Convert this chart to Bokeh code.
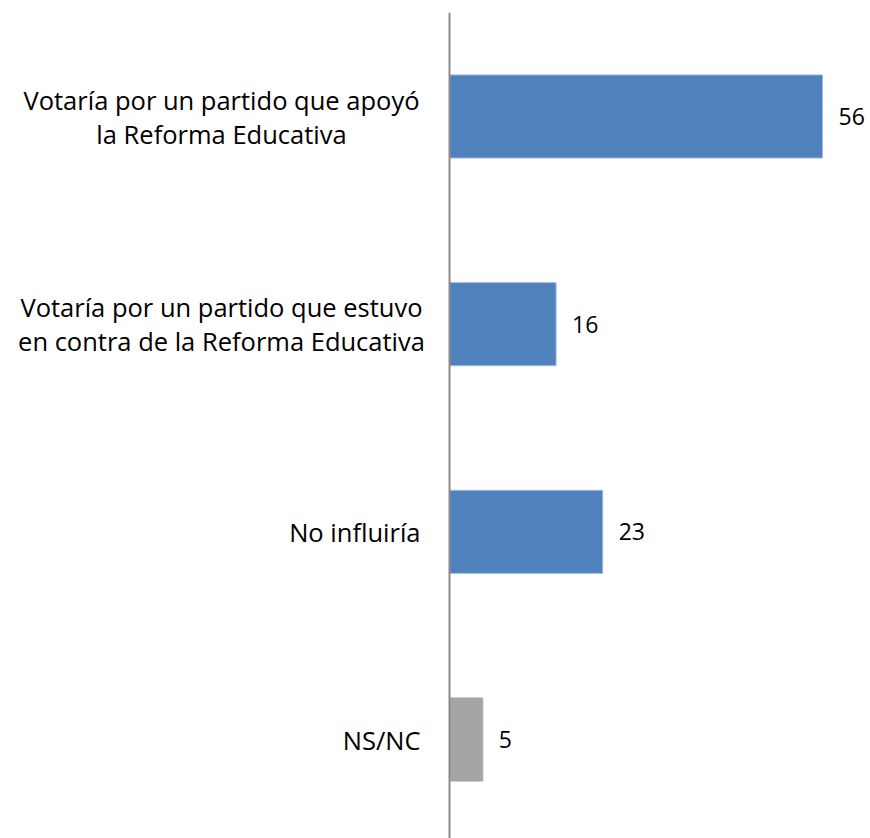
from bokeh.plotting import figure
from bokeh.models import ColumnDataSource, Range1d
from bokeh.core.properties import value
from bokeh.embed import file_html
from bokeh.resources import INLINE

# ---- data ----
categories = [
    "Votaría por un partido que apoyó\nla Reforma Educativa",
    "Votaría por un partido que estuvo\nen contra de la Reforma Educativa",
    "No influiría",
    "NS/NC",
]
values = [56, 16, 23, 5]
bar_colors = ["#4F81BD", "#4F81BD", "#4F81BD", "#A5A5A5"]
edge_colors = ["#9DB9DC", "#9DB9DC", "#9DB9DC", "#A5A5A5"]

n = len(categories)
ypos = [n - 1 - i for i in range(n)]

W, H = 870, 838
px_per_unit = 373 / 56.0
axis_px = 449
x_start = -axis_px / px_per_unit
x_end = (W - axis_px) / px_per_unit
py_per_unit = 207.67
y_end = (n - 1) + 116 / py_per_unit
y_start = y_end - H / py_per_unit

p = figure(width=W, height=H, output_backend="svg", toolbar_location=None,
           x_range=Range1d(x_start, x_end), y_range=Range1d(y_start, y_end),
           x_axis_location=None, y_axis_location=None, min_border=0,
           outline_line_color=None, background_fill_color="white",
           border_fill_color="white")
p.xgrid.visible = False
p.ygrid.visible = False

bars = ColumnDataSource(dict(y=ypos, v=values, c=bar_colors, e=edge_colors,
                             lbl=[str(v) for v in values]))
p.hbar(y="y", left=0, right="v", height=0.4, fill_color="c", line_color="e",
       line_width=1, source=bars)

# value axis line
p.segment(x0=[0], y0=[-0.5], x1=[0], y1=[n - 0.5], line_color="#8C8C8C", line_width=2)

# value labels
p.text(x="v", y="y", text="lbl", source=bars, x_offset=16,
       text_align="left", text_baseline="middle",
       text_font=value("Open Sans"), text_font_size="23px", text_color="#000000")

# category labels
sx, sy, st, syo, sal, sxo = [], [], [], [], [], []
line_gap = 34
for cat, y in zip(categories, ypos):
    lines = cat.split("\n")
    m = len(lines)
    for j, line in enumerate(lines):
        sx.append(0)
        sy.append(y)
        st.append(line)
        syo.append((j - (m - 1) / 2) * line_gap)
        if m > 1:
            sal.append("center")
            sxo.append(-228)
        else:
            sal.append("right")
            sxo.append(-29)
lab = ColumnDataSource(dict(x=sx, y=sy, t=st, yo=syo, al=sal, xo=sxo))
p.text(x="x", y="y", text="t", source=lab, x_offset="xo", y_offset="yo",
       text_align="al", text_baseline="middle",
       text_font=value("Open Sans"), text_font_size="25.5px", text_color="#000000")

open("out.html", "w").write(file_html(p, INLINE))
